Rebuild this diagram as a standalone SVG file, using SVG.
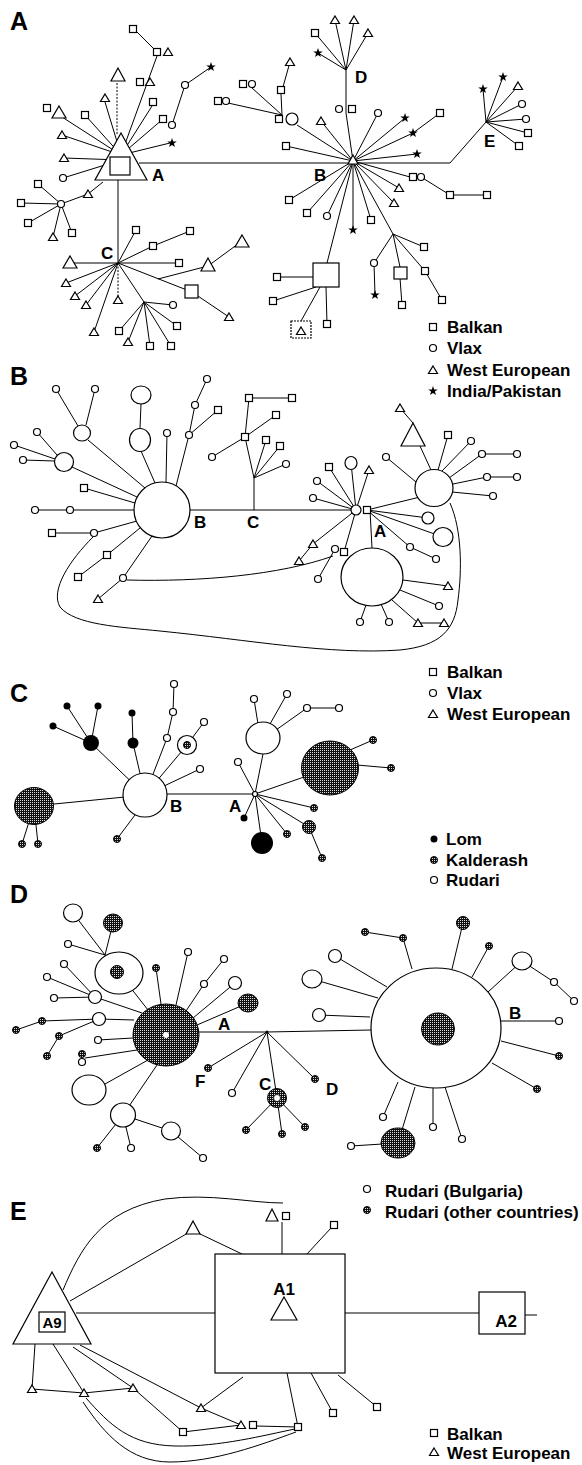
<svg xmlns="http://www.w3.org/2000/svg" xmlns:xlink="http://www.w3.org/1999/xlink" width="582" height="1465" viewBox="0 0 582 1465">
<style>
.e{stroke:#000;stroke-width:1;fill:none}
.d{stroke:#000;stroke-width:1;fill:none;stroke-dasharray:2,1.5}
.n{fill:#fff;stroke:#000;stroke-width:1.2}
.h{fill:url(#hp);stroke:#000;stroke-width:1}
.b{fill:#000}
.t{font-family:"Liberation Sans",Arial,sans-serif;font-weight:bold;fill:#000}
.pl{font-size:25px}
.nl{font-size:17px}
.lg{font-size:17px}
</style>
<defs>
<pattern id="hp" width="2" height="2" patternUnits="userSpaceOnUse"><rect width="2" height="2" fill="#111"/><rect width="1" height="1" fill="#ddd"/></pattern>
<rect id="s" x="-3.5" y="-3.5" width="7" height="7" fill="#fff" stroke="#000" stroke-width="1.2"/>
<circle id="o" r="3.5" fill="#fff" stroke="#000" stroke-width="1.2"/>
<polygon id="t" points="0,-4 4.5,3.5 -4.5,3.5" fill="#fff" stroke="#000" stroke-width="1.2"/>
<polygon id="st" points="0,-5 1.18,-1.62 4.76,-1.55 1.9,0.62 2.94,4.05 0,2 -2.94,4.05 -1.9,0.62 -4.76,-1.55 -1.18,-1.62" fill="#000"/>
<circle id="l" r="3.5" fill="#000"/>
<circle id="k" r="3.5" fill="url(#hp)" stroke="#000" stroke-width="1"/>
</defs>
<rect width="582" height="1465" fill="#fff"/>

<!-- ================= PANEL A ================= -->
<g id="A-connectors">
<path class="e" d="M139,163 L450,163 L486,122 M118,180 L118,263
M121,155 L105,102 M121,155 L157,56 M137,32 L157,52 M121,155 L152,106 M121,155 L163,119 M172,125 L185,85 L211,67 M121,155 L170,143
M121,155 L62,117 M121,155 L85,115 M121,155 L62,135 M121,160 L64,158 M121,160 L63,178 M103,182 L88,194 L61,204
M61,204 L38,184 M61,204 L21,203 M61,204 L28,223 M61,204 L53,237 M61,204 L72,233
M118,263 L70,263 M118,263 L179,263 M118,263 L136,230 M118,263 L153,246 L190,231 M118,263 L192,292 L229,317 M158,279 L208,266 L242,241
M118,263 L66,283 M118,263 L75,296 M118,263 L86,305 M118,263 L94,332 M118,263 L144,302
M144,302 L173,305 M144,302 L177,326 M144,302 L171,346 M144,302 L150,346 M144,302 L128,342 M144,302 L119,331
M353,161 L346,113 L346,70 M346,70 L335,20 M346,70 L354,20 M346,70 L368,33 M346,70 L315,33 M346,70 L318,53
M353,161 L297,125 M282,115 L281,94 L290,62 M282,115 L252,88 M282,115 L228,103
M353,161 L321,121 M353,161 L286,146 M353,161 L378,113 M353,161 L405,118 M353,161 L413,133 L440,113 M353,161 L417,154
M353,161 L410,177 M421,177 L450,195 L487,195 M353,161 L399,188 M353,161 L394,203 M353,161 L289,200 M353,161 L307,213
M353,161 L327,216 M353,161 L353,230 M353,161 L371,220 M353,161 L327,263 M353,161 L393,234 L424,247 M393,234 L425,271 L442,300
M393,234 L374,263 L375,295 M393,234 L400,267 M400,278 L402,305
M313,277 L277,277 M316,287 L273,301 M320,287 L301,321 M326,287 L327,324
M486,122 L483,89 M486,122 L503,77 M486,122 L518,86 M486,122 L522,104 M486,122 L526,119 M486,122 L528,133 M486,122 L519,146"/>
<path class="d" d="M117,134 L117,82 M118,263 L118,300"/>
</g>
<g id="A-nodes">
<g id="A-hubA"><polygon class="n" points="121,133 147,180 95,180" stroke-width="1.4"/><rect class="n" x="110" y="157" width="20" height="18"/></g>
<polygon class="n" points="118,68 125,81 111,81"/>
<polygon class="n" points="59,106 66,118 52,118"/>
<polygon class="n" points="70,256 77,268 63,268"/>
<polygon class="n" points="208,258 215,271 201,271"/>
<polygon class="n" points="242,235 249,247 235,247"/>
<rect class="n" x="185" y="285" width="13" height="13"/>
<g id="A-hubB"><polygon class="n" points="353,155 358,164 348,164"/></g>
<rect class="n" x="313" y="263" width="26" height="24"/>
<rect class="n" x="394" y="267" width="13" height="12"/>
<rect class="n" x="291" y="321" width="20" height="17" stroke-dasharray="2,1"/>
<circle class="n" cx="292" cy="119" r="6"/>
<use href="#t" x="105" y="98"/><use href="#s" x="133" y="29"/><use href="#s" x="157" y="52"/><use href="#t" x="168" y="52"/>
<use href="#s" x="140" y="82"/><use href="#t" x="150" y="82"/><use href="#s" x="153" y="102"/><use href="#o" x="185" y="85"/>
<use href="#st" x="211" y="67"/><use href="#s" x="163" y="119"/><use href="#o" x="172" y="125"/><use href="#st" x="172" y="143"/>
<use href="#s" x="47" y="108"/><use href="#s" x="85" y="115"/><use href="#t" x="62" y="135"/><use href="#t" x="64" y="158"/><use href="#o" x="63" y="178"/>
<use href="#t" x="88" y="194"/><use href="#o" x="61" y="204"/><use href="#s" x="38" y="184"/><use href="#s" x="21" y="203"/><use href="#s" x="28" y="223"/>
<use href="#t" x="53" y="237"/><use href="#s" x="72" y="233"/>
<use href="#s" x="179" y="263"/><use href="#s" x="136" y="230"/><use href="#s" x="153" y="246"/><use href="#s" x="190" y="231"/><use href="#t" x="229" y="317"/>
<use href="#t" x="66" y="283"/><use href="#t" x="75" y="296"/><use href="#t" x="86" y="305"/><use href="#t" x="118" y="300"/><use href="#t" x="94" y="332"/>
<use href="#o" x="173" y="305"/><use href="#s" x="177" y="326"/><use href="#s" x="171" y="346"/><use href="#s" x="150" y="346"/><use href="#t" x="128" y="342"/><use href="#s" x="119" y="331"/>
<use href="#t" x="335" y="20"/><use href="#t" x="354" y="20"/><use href="#t" x="368" y="33"/><use href="#s" x="315" y="33"/><use href="#st" x="318" y="53"/>
<use href="#o" x="339" y="109"/><use href="#s" x="352" y="109"/>
<use href="#s" x="279" y="119"/><use href="#s" x="281" y="90"/><use href="#t" x="290" y="62"/><use href="#s" x="243" y="84"/><use href="#o" x="252" y="84"/><use href="#s" x="218" y="101"/><use href="#o" x="226" y="101"/>
<use href="#t" x="321" y="121"/><use href="#s" x="286" y="146"/><use href="#o" x="378" y="113"/><use href="#st" x="405" y="118"/><use href="#st" x="413" y="133"/><use href="#s" x="440" y="113"/><use href="#st" x="417" y="154"/>
<use href="#s" x="413" y="177"/><use href="#o" x="421" y="177"/><use href="#s" x="450" y="195"/><use href="#s" x="487" y="195"/>
<use href="#t" x="399" y="188"/><use href="#t" x="394" y="203"/><use href="#s" x="289" y="200"/><use href="#s" x="307" y="213"/><use href="#o" x="327" y="216"/><use href="#st" x="353" y="230"/><use href="#s" x="371" y="220"/>
<use href="#s" x="277" y="277"/><use href="#s" x="273" y="301"/><use href="#t" x="301" y="331"/><use href="#s" x="327" y="324"/>
<use href="#s" x="424" y="247"/><use href="#s" x="425" y="271"/><use href="#s" x="442" y="300"/><use href="#o" x="374" y="263"/><use href="#st" x="375" y="295"/><use href="#s" x="402" y="305"/>
<use href="#st" x="483" y="89"/><use href="#st" x="503" y="77"/><use href="#t" x="518" y="86"/><use href="#o" x="522" y="104"/><use href="#o" x="526" y="119"/><use href="#s" x="528" y="133"/><use href="#s" x="519" y="146"/>
</g>
<g id="A-labels" class="t">
<text class="pl" x="10" y="30">A</text>
<text class="nl" x="152" y="181">A</text><text class="nl" x="314" y="181">B</text><text class="nl" x="101" y="259">C</text><text class="nl" x="355" y="83">D</text><text class="nl" x="484" y="147">E</text>
</g>
<g id="A-legend">
<use href="#s" x="433" y="327"/><use href="#o" x="433" y="348"/><use href="#t" x="433" y="370"/><use href="#st" x="433" y="391"/>
<g class="t lg"><text x="447" y="333">Balkan</text><text x="447" y="354">Vlax</text><text x="447" y="376">West European</text><text x="447" y="397">India/Pakistan</text></g>
</g>

<!-- ================= PANEL B ================= -->
<g id="B-connectors">
<path class="e" d="M190,510 L351,510 M134,510 L70,510 L35,510
M254,510 L254,478 L245,437 L249,398 L292,398 M245,437 L276,415 M245,437 L212,457 M254,478 L266,440 M254,478 L280,446 M254,478 L286,464
M155,483 L141,451 M140,428 L141,404 M166,482 L167,433 M176,486 L189,435 L195,405 L207,379 M189,435 L218,410
M145,488 L88,440 M78,426 L56,389 M86,425 L95,389 M137,497 L72,467 M57,455 L37,432 M55,459 L14,445 M55,461 L23,460
M135,503 L84,488 M137,521 L94,533 L52,533 M140,528 L107,555 L78,577 M152,536 L123,578 L98,599
M93,537 C70,560 50,590 60,607 C75,625 120,627 160,631 C250,640 330,655 400,650 C440,646 455,630 458,600 C462,570 462,530 450,503
M127,580 C200,582 280,575 333,556
M356,510 L317,481 M356,510 L313,498 M356,510 L329,467 M356,510 L351,463 M356,510 L369,470 M356,510 L313,544 L299,561 M356,510 L344,552 M335,549 L318,579 M370,510 L372,548
M367,510 L428,518 M367,510 L443,537 M367,510 L410,547 L436,559 M367,510 L420,497
M431,470 L420,446 M413,423 L400,408 M438,470 L448,435 M442,471 L471,441 M449,478 L482,454 L517,454 M453,484 L487,477 L517,477 M452,492 L493,496 M416,482 L386,457
M403,580 L448,586 M400,590 L439,606 M392,600 L418,623 L444,623 M366,605 L360,622 M381,604 L389,622"/>
</g>
<g id="B-nodes">
<g id="B-hubB"><circle class="n" cx="162" cy="510" r="28"/></g>
<ellipse class="n" cx="140" cy="440" rx="10.5" ry="11.5"/><ellipse class="n" cx="141" cy="395" rx="10" ry="9"/>
<ellipse class="n" cx="82" cy="433" rx="8.5" ry="8"/><ellipse class="n" cx="64" cy="462" rx="9.5" ry="9.5"/>
<g id="B-hubA"><circle class="n" cx="356" cy="510" r="5"/></g>
<ellipse class="n" cx="351" cy="463" rx="6" ry="6.5"/>
<ellipse class="n" cx="372" cy="577" rx="31" ry="29"/>
<circle class="n" cx="428" cy="518" r="6"/><ellipse class="n" cx="443" cy="537" rx="10" ry="9.5"/>
<ellipse class="n" cx="434" cy="488" rx="19" ry="18.5"/>
<polygon class="n" points="413,423 425,446 401,446"/>
<use href="#o" x="70" y="510"/><use href="#o" x="35" y="510"/>
<use href="#s" x="245" y="437"/><use href="#s" x="249" y="398"/><use href="#s" x="292" y="398"/><use href="#s" x="276" y="415"/><use href="#o" x="212" y="457"/><use href="#s" x="266" y="440"/><use href="#s" x="280" y="446"/><use href="#o" x="286" y="464"/>
<use href="#o" x="167" y="433"/><use href="#o" x="189" y="435"/><use href="#o" x="195" y="405"/><use href="#o" x="207" y="379"/><use href="#s" x="218" y="410"/>
<use href="#o" x="56" y="389"/><use href="#o" x="95" y="389"/><use href="#o" x="37" y="432"/><use href="#o" x="14" y="445"/><use href="#o" x="23" y="460"/>
<use href="#s" x="84" y="488"/><use href="#o" x="94" y="533"/><use href="#s" x="52" y="533"/><use href="#s" x="107" y="555"/><use href="#s" x="78" y="577"/><use href="#o" x="123" y="578"/><use href="#t" x="98" y="599"/>
<use href="#s" x="367" y="510"/>
<use href="#o" x="317" y="481"/><use href="#o" x="313" y="498"/><use href="#s" x="329" y="467"/><use href="#t" x="369" y="470"/>
<use href="#t" x="313" y="544"/><use href="#t" x="299" y="561"/><use href="#o" x="335" y="549"/><use href="#s" x="344" y="552"/><use href="#o" x="318" y="579"/>
<use href="#o" x="410" y="547"/><use href="#o" x="436" y="559"/>
<use href="#t" x="400" y="408"/><use href="#s" x="448" y="435"/><use href="#o" x="471" y="441"/><use href="#o" x="482" y="454"/><use href="#o" x="517" y="454"/><use href="#o" x="487" y="477"/><use href="#o" x="517" y="477"/><use href="#o" x="493" y="496"/><use href="#o" x="386" y="457"/>
<use href="#t" x="448" y="586"/><use href="#o" x="439" y="606"/><use href="#t" x="418" y="623"/><use href="#t" x="444" y="623"/><use href="#o" x="360" y="622"/><use href="#o" x="389" y="622"/>
</g>
<g id="B-labels" class="t">
<text class="pl" x="10" y="385">B</text>
<text class="nl" x="194" y="528">B</text><text class="nl" x="247" y="528">C</text><text class="nl" x="374" y="537">A</text>
</g>
<g id="B-legend">
<use href="#s" x="433" y="672"/><use href="#o" x="433" y="693"/><use href="#t" x="433" y="714"/>
<g class="t lg"><text x="447" y="678">Balkan</text><text x="447" y="699">Vlax</text><text x="447" y="720">West European</text></g>
</g>

<!-- ================= PANEL C ================= -->
<g id="C-connectors">
<path class="e" d="M167,794 L255,794 M145,795 L34,806 M145,795 L91,743 M91,743 L67,706 M91,743 L98,706 M91,743 L53,726
M145,795 L133,743 L132,713 M145,795 L167,738 L173,712 L174,684 M145,795 L187,745 L204,722 M145,795 L200,769 M135,815 L117,839
M34,806 L22,844 M34,806 L38,844
M255,794 L238,762 M255,794 L263,754 M258,724 L254,699 M270,724 L287,694 M276,730 L307,708 L339,708
M255,794 L330,768 M350,750 L373,740 M357,765 L391,768 M255,794 L314,808 M255,794 L309,827 L322,858 M255,794 L244,818
M255,794 L262,843 M255,794 L287,834"/>
</g>
<g id="C-nodes">
<g id="C-hubB"><circle class="n" cx="145" cy="795" r="22"/></g>
<ellipse class="h" cx="34" cy="806" rx="19.5" ry="18.5"/>
<circle class="b" cx="91" cy="743" r="8"/><use href="#l" x="67" y="706"/><use href="#l" x="98" y="706"/><use href="#l" x="53" y="726"/>
<circle class="b" cx="133" cy="743" r="5.5"/><use href="#l" x="132" y="713"/>
<use href="#o" x="167" y="738"/><use href="#o" x="173" y="712"/><use href="#o" x="174" y="684"/>
<circle class="n" cx="187" cy="745" r="9.5"/><use href="#k" x="187" y="745"/>
<use href="#o" x="204" y="722"/><use href="#o" x="200" y="769"/>
<g id="C-hubA"><circle class="n" cx="255" cy="794" r="2.5"/></g>
<use href="#l" x="244" y="818"/><use href="#o" x="238" y="762"/>
<ellipse class="n" cx="263" cy="738" rx="17" ry="16"/>
<use href="#o" x="254" y="699"/><use href="#o" x="287" y="694"/><use href="#o" x="307" y="708"/><use href="#o" x="339" y="708"/>
<ellipse class="h" cx="330" cy="768" rx="28.5" ry="27"/>
<use href="#k" x="373" y="740"/><use href="#k" x="391" y="768"/><use href="#k" x="314" y="808"/>
<circle class="h" cx="309" cy="827" r="6.5"/><use href="#k" x="322" y="858"/>
<circle class="b" cx="262" cy="843" r="11"/><use href="#k" x="287" y="834"/>
<use href="#k" x="117" y="839"/><use href="#k" x="22" y="844"/><use href="#k" x="38" y="844"/>
</g>
<g id="C-labels" class="t">
<text class="pl" x="10" y="702">C</text>
<text class="nl" x="170" y="812">B</text><text class="nl" x="229" y="812">A</text>
</g>
<g id="C-legend">
<use href="#l" x="434" y="839"/><use href="#k" x="434" y="860"/><use href="#o" x="434" y="880"/>
<g class="t lg"><text x="446" y="845">Lom</text><text x="446" y="866">Kalderash</text><text x="446" y="886">Rudari</text></g>
</g>

<!-- ================= PANEL D ================= -->
<g id="D-connectors">
<path class="e" d="M197,1032 L267,1032 L371,1030 M267,1032 L208,1068 M267,1032 L232,1093 M267,1032 L277,1098 M267,1032 L315,1079
M277,1098 L246,1130 M277,1098 L282,1134 M277,1098 L305,1127
M161,1004 L156,968 M176,1005 L188,952 M186,1011 L204,984 L224,959 M193,1018 L235,983 M197,1025 L248,1003
M148,1010 L105,955 M105,955 L113,923 M105,955 L73,913 M105,955 L68,944
M142,1013 L95,997 M95,997 L64,964 M95,997 L47,977 M95,997 L54,998
M134,1020 L99,1019 M99,1019 L42,1021 L16,1030 M99,1019 L59,1036 L47,1056
M133,1038 L98,1040 M137,1050 L85,1058 M148,1060 L105,1084 M157,1065 L123,1115
M123,1115 L97,1148 M123,1115 L131,1148 M123,1115 L171,1131 L203,1158
M412,969 L403,938 L365,932 M452,969 L463,923 M472,977 L489,946 M488,992 L522,961 L554,982 L574,1001
M387,987 L335,956 M378,998 L312,979 M370,1017 L319,1015 M501,1021 L559,1021 M501,1041 L559,1056 M492,1063 L537,1089
M398,1082 L383,1117 M415,1087 L398,1143 L351,1146 M433,1088 L433,1127 M445,1087 L462,1139"/>
</g>
<g id="D-nodes">
<g id="D-hubL"><ellipse class="h" cx="166" cy="1035" rx="33" ry="31"/><circle cx="166" cy="1035" r="3" fill="#fff"/></g>
<g id="D-hubA"><circle class="b" cx="267" cy="1032" r="1.5"/></g>
<g id="D-hubB"><ellipse class="n" cx="436" cy="1028" rx="65" ry="60"/><ellipse class="h" cx="438" cy="1029" rx="16.5" ry="16"/></g>
<use href="#k" x="208" y="1068"/><use href="#o" x="232" y="1093"/>
<g id="D-C"><circle class="h" cx="277" cy="1098" r="9.5"/><circle cx="277" cy="1098" r="3.5" fill="#fff" stroke="#000" stroke-width="0.8"/></g>
<use href="#k" x="246" y="1130"/><use href="#k" x="282" y="1134"/><use href="#k" x="305" y="1127"/><use href="#k" x="315" y="1079"/>
<use href="#k" x="156" y="968"/><use href="#o" x="188" y="952"/><use href="#o" x="204" y="984"/><use href="#o" x="224" y="959"/>
<circle class="n" cx="235" cy="983" r="6.5"/><ellipse class="h" cx="248" cy="1003" rx="10" ry="9"/>
<ellipse class="n" cx="119" cy="973" rx="24" ry="21"/><circle class="h" cx="117" cy="972" r="6.5"/>
<ellipse class="h" cx="113" cy="923" rx="9.5" ry="9"/><ellipse class="n" cx="73" cy="913" rx="9.5" ry="9"/><use href="#o" x="68" y="944"/>
<circle class="n" cx="95" cy="997" r="6.5"/><use href="#o" x="64" y="964"/><use href="#o" x="47" y="977"/><use href="#o" x="54" y="998"/>
<circle class="n" cx="99" cy="1019" r="6.5"/><use href="#k" x="42" y="1021"/><use href="#k" x="16" y="1030"/><use href="#k" x="59" y="1036"/><use href="#k" x="47" y="1056"/>
<use href="#o" x="98" y="1040"/><use href="#k" x="82" y="1054"/><use href="#o" x="82" y="1062"/>
<ellipse class="n" cx="89" cy="1090" rx="17" ry="15"/>
<ellipse class="n" cx="123" cy="1115" rx="12.5" ry="12"/><use href="#k" x="97" y="1148"/><use href="#o" x="131" y="1148"/>
<ellipse class="n" cx="171" cy="1131" rx="9.5" ry="9"/><use href="#o" x="203" y="1158"/>
<use href="#k" x="403" y="938"/><use href="#k" x="365" y="932"/><circle class="h" cx="463" cy="923" r="6.5"/><use href="#k" x="489" y="946"/>
<ellipse class="n" cx="522" cy="961" rx="10" ry="9"/><use href="#o" x="554" y="982"/><use href="#o" x="574" y="1001"/>
<circle class="n" cx="335" cy="956" r="6.5"/><ellipse class="n" cx="312" cy="979" rx="10" ry="9"/><circle class="n" cx="319" cy="1015" r="6.5"/>
<use href="#o" x="559" y="1021"/><use href="#k" x="559" y="1056"/><use href="#k" x="537" y="1089"/><use href="#o" x="383" y="1117"/>
<ellipse class="h" cx="398" cy="1143" rx="17" ry="15"/><use href="#o" x="351" y="1146"/><use href="#o" x="433" y="1127"/><use href="#o" x="462" y="1139"/>
</g>
<g id="D-labels" class="t">
<text class="pl" x="10" y="903">D</text>
<text class="nl" x="218" y="1030">A</text><text class="nl" x="509" y="1019">B</text><text class="nl" x="195" y="1087">F</text><text class="nl" x="259" y="1090">C</text><text class="nl" x="326" y="1095">D</text>
</g>
<g id="D-legend">
<use href="#o" x="367" y="1189"/><use href="#k" x="367" y="1210"/>
<g class="t lg"><text x="385" y="1197">Rudari (Bulgaria)</text><text x="385" y="1218">Rudari (other countries)</text></g>
</g>

<!-- ================= PANEL E ================= -->
<g id="E-connectors">
<path class="e" d="M63,1290 C80,1250 100,1210 165,1199 C210,1193 250,1203 283,1203
M76,1313 L215,1313 M345,1313 L479,1313 M525,1315 L537,1315
M282,1222 L282,1254 M70,1301 L188,1233 M198,1233 L242,1254 M307,1254 L331,1228
M35,1344 L32,1389 L84,1393 M53,1344 L84,1393 L133,1388 M73,1347 L133,1388 L183,1432 L241,1425 M256,1426 L298,1427
M80,1345 L201,1408 L243,1377 M201,1408 L241,1425 M287,1373 L298,1427 M311,1373 L333,1413 M338,1375 L377,1407
M86,1398 C110,1425 130,1445 175,1446 C220,1447 265,1435 295,1429
M83,1402 C105,1435 130,1462 170,1462 C215,1462 260,1445 296,1432"/>
</g>
<g id="E-nodes">
<g id="E-A9"><polygon class="n" points="52,1272 91,1344 13,1344"/><rect class="n" x="39" y="1312" width="26" height="20"/><text class="t" x="52" y="1328" font-size="15" text-anchor="middle">A9</text></g>
<g id="E-A1"><rect class="n" x="215" y="1254" width="130" height="119"/><text class="t" x="284" y="1295" font-size="17" text-anchor="middle">A1</text><polygon class="n" points="284,1297 297,1320 271,1320"/></g>
<g id="E-A2"><rect class="n" x="479" y="1292" width="46" height="42"/><text class="t" x="506" y="1327" font-size="17" text-anchor="middle">A2</text></g>
<polygon class="n" points="193,1221 200,1234 186,1234"/>
<polygon class="n" points="272,1209 278,1221 266,1221"/><use href="#s" x="286" y="1216"/><use href="#s" x="334" y="1225"/>
<use href="#t" x="32" y="1389"/><use href="#t" x="84" y="1393"/><use href="#t" x="133" y="1388"/><use href="#s" x="183" y="1432"/>
<use href="#t" x="241" y="1425"/><use href="#s" x="253" y="1425"/><use href="#s" x="298" y="1427"/><use href="#t" x="201" y="1408"/>
<use href="#s" x="333" y="1413"/><use href="#s" x="377" y="1407"/>
</g>
<g id="E-labels" class="t"><text class="pl" x="10" y="1220">E</text></g>
<g id="E-legend">
<use href="#s" x="434" y="1433"/><use href="#t" x="434" y="1452"/>
<g class="t lg"><text x="447" y="1440">Balkan</text><text x="447" y="1459">West European</text></g>
</g>
</svg>
